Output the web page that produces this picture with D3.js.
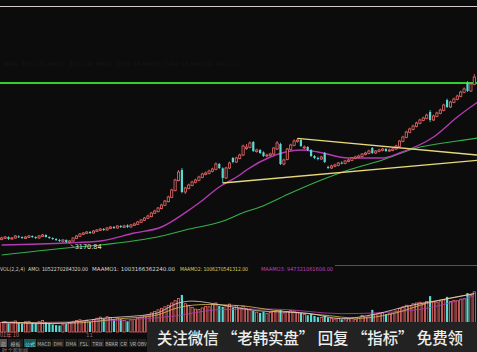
<!DOCTYPE html>
<html>
<head>
<meta charset="utf-8">
<script src="https://cdn.jsdelivr.net/npm/d3@7"></script>
<style>
  html, body { margin: 0; padding: 0; background: #0c0c0c; }
  svg { display: block; }
</style>
</head>
<body>
<svg width="477" height="352"></svg>
<script>
// daily index candles (points)
const openP = [
  3184,3187,3191,3185,3188,3193,3191,3187,3190,3194,
  3191,3188,3193,3197,3191,3188,3185,3182,3178,3182,
  3175,3179,3187,3193,3199,3202,3206,3203,3208,3211,
  3215,3212,3217,3221,3218,3224,3220,3226,3221,3226,
  3229,3235,3241,3247,3252,3262,3267,3276,3286,3297,
  3310,3330,3360,3392,3326,3337,3346,3355,3361,3370,
  3379,3382,3388,3394,3410,3397,3368,3398,3428,3416,
  3427,3437,3456,3460,3476,3447,3452,3445,3434,3436,
  3440,3455,3470,3410,3424,3454,3466,3478,3482,3458,
  3461,3452,3434,3428,3425,3443,3401,3398,3403,3406,
  3414,3412,3418,3421,3427,3430,3433,3439,3442,3458,
  3443,3448,3451,3455,3449,3451,3455,3463,3478,3490,
  3505,3514,3523,3532,3541,3547,3566,3542,3553,3562,
  3571,3602,3581,3595,3604,3613,3625,3653,3629,3649
];
const closeP = [
  3188,3191,3185,3188,3194,3191,3188,3191,3194,3191,
  3188,3194,3197,3191,3188,3185,3182,3179,3182,3176,
  3179,3188,3194,3200,3203,3206,3203,3209,3212,3215,
  3212,3218,3221,3218,3224,3221,3224,3221,3227,3230,
  3236,3242,3248,3254,3263,3269,3278,3287,3299,3311,
  3332,3362,3386,3326,3338,3347,3356,3362,3371,3380,
  3383,3389,3395,3410,3398,3368,3398,3413,3416,3428,
  3437,3464,3461,3473,3449,3452,3443,3434,3437,3440,
  3458,3473,3410,3422,3455,3467,3479,3482,3464,3461,
  3452,3434,3428,3425,3431,3416,3398,3404,3407,3413,
  3413,3419,3422,3428,3431,3434,3440,3443,3449,3443,
  3449,3452,3455,3449,3452,3455,3464,3479,3491,3506,
  3515,3524,3533,3542,3548,3557,3542,3554,3563,3572,
  3587,3581,3596,3605,3614,3626,3635,3629,3650,3671
];
const highP = [
  3192,3194,3193,3191,3197,3196,3193,3194,3197,3196,
  3193,3197,3200,3199,3193,3190,3188,3185,3185,3184,
  3182,3190,3197,3203,3206,3209,3209,3212,3215,3218,
  3218,3221,3224,3224,3227,3227,3228,3229,3230,3234,
  3239,3245,3251,3258,3266,3273,3281,3291,3302,3315,
  3336,3366,3392,3398,3342,3351,3360,3366,3375,3384,
  3388,3393,3399,3415,3413,3400,3402,3417,3431,3432,
  3441,3468,3470,3478,3479,3456,3455,3448,3441,3444,
  3461,3479,3474,3426,3458,3471,3484,3488,3485,3466,
  3464,3455,3437,3432,3435,3446,3405,3408,3411,3416,
  3418,3422,3426,3431,3435,3438,3443,3447,3453,3461,
  3452,3456,3459,3458,3456,3459,3468,3482,3495,3510,
  3519,3528,3537,3546,3552,3561,3572,3558,3567,3576,
  3591,3606,3600,3609,3618,3630,3640,3659,3655,3680
];
const lowP = [
  3181,3185,3182,3183,3186,3188,3185,3185,3188,3188,
  3185,3186,3191,3189,3185,3182,3179,3176,3175,3173,
  3170.84,3177,3185,3191,3197,3200,3200,3201,3206,3209,
  3209,3210,3215,3215,3216,3218,3218,3218,3219,3224,
  3227,3233,3239,3245,3250,3260,3265,3274,3284,3295,
  3308,3328,3358,3322,3320,3334,3343,3352,3358,3367,
  3376,3379,3385,3391,3395,3353,3365,3395,3412,3413,
  3424,3434,3452,3457,3446,3444,3440,3431,3430,3433,
  3437,3452,3407,3406,3421,3451,3463,3474,3461,3455,
  3449,3431,3425,3421,3422,3413,3395,3395,3400,3403,
  3409,3409,3415,3418,3424,3427,3430,3436,3439,3440,
  3440,3445,3448,3446,3446,3448,3452,3460,3475,3487,
  3502,3511,3520,3529,3538,3544,3536,3539,3550,3559,
  3568,3578,3578,3592,3601,3610,3622,3626,3626,3646
];
// turnover (亿元)
const amount = [
  2500,2700,2300,2600,2900,2400,2200,2700,2800,2500,
  2300,2700,3000,2600,2300,2000,1800,1700,1900,2100,
  2400,2800,3000,3200,2900,3100,2700,3300,3600,3900,
  3500,4000,3800,3300,3700,3400,3000,2800,3200,3300,
  3600,3900,4200,4500,5000,5400,5800,6200,6600,7000,
  7600,8200,8800,9700,7400,7000,6400,6000,5900,6300,
  6700,6600,7200,7600,6800,6600,6900,7300,6400,6900,
  6300,6800,6200,6000,5500,5200,5000,5300,4900,5100,
  5400,5700,5800,5000,5400,5600,5500,5200,5000,4600,
  4400,4700,4200,3900,3800,4300,3800,3500,3400,3600,
  3300,3200,3400,3500,3300,3600,4300,3900,4200,5800,
  4600,4900,5000,4700,4800,5000,5500,6200,6600,7000,
  6800,7400,7600,7800,7600,8000,9400,7900,7800,8100,
  8400,9200,8000,8300,8200,8600,8700,10200,9600,10523
];
// moving averages, [day, value]
const maMid = [[0,3167],[19,3173],[29,3179],[39,3203],[47,3221],[54,3264],[58,3293],
  [64,3341],[70,3377],[72,3392],[79,3431],[88,3452],[93,3446],[102,3428],[112,3428],
  [117,3443],[127,3491],[134,3551],[140,3596]];
const maLong = [[0,3137],[19,3158],[29,3167],[47,3194],[54,3212],[66,3242],[70,3260],
  [76,3281],[85,3323],[94,3362],[102,3392],[112,3422],[122,3458],[132,3476],[140,3488]];
const amoMa1 = [[0,2500],[15,2200],[30,3600],[45,4800],[52,7600],[56,8100],[65,7000],
  [75,5600],[90,4900],[100,3500],[110,4700],[120,6900],[130,8500],[139,10032]];
const amoMa2 = [[0,2600],[20,2300],[35,3500],[45,4300],[52,6400],[60,7200],[70,6900],
  [80,5700],[95,4400],[105,3600],[115,4800],[125,7500],[139,10063]];
const amoMa3 = [[0,2400],[30,2900],[50,4100],[65,5900],[80,6000],[100,4800],[120,5600],[139,9473]];
const resistance = 3653;
const upperTrend = [[87,3487],[141,3436]];
const lowerTrend = [[65,3353],[141,3422]];
const lowLabel = "3170.84";
const tabs = ["指","模板","公式","MACD","DMI","DMA","FSL","TRIX","BRAR","CR","VR","OBV"];
const watermark = "关注微信 “老韩实盘” 回复 “指标” 免费领";

const svg = d3.select("svg");
const W = 477;
const UP = "#ee6a6a", DOWN = "#5ad8d4", BG = "#0c0c0c";

const x = d3.scaleLinear().domain([0, 139]).range([1.7, 474.3]);
const y = d3.scaleLinear().domain([3098, 3722]).range([268, 60]);
const yv = d3.scaleLinear().domain([0, 11000]).range([332, 290]);

svg.append("rect").attr("width", W).attr("height", 352).attr("fill", BG);

svg.append("defs").append("clipPath").attr("id", "main")
  .append("rect").attr("x", 0).attr("y", 8).attr("width", W).attr("height", 256);

// top border
svg.append("line").attr("x1", 0).attr("x2", W).attr("y1", 6.5).attr("y2", 6.5)
  .attr("stroke", "#d9c8c8").attr("stroke-width", 1.2);

// faint header
svg.append("text").attr("x", 4).attr("y", 66).attr("fill", "#161616")
  .style("font", "6px 'DejaVu Sans'")
  .text("MA5: 3650.21  MA10: 3611.46  MA20: 3560.88  MA60: 3487.95  MA120: 3402.17");

const g = svg.append("g").attr("clip-path", "url(#main)");

// resistance level
g.append("line").attr("x1", 0).attr("x2", W)
  .attr("y1", y(resistance)).attr("y2", y(resistance))
  .attr("stroke", "#2fcf2f").attr("stroke-width", 2);

const line = d3.line().x(d => x(d[0])).y(d => y(d[1])).curve(d3.curveMonotoneX);
g.append("path").attr("d", line(maLong)).attr("fill", "none")
  .attr("stroke", "#36b04a").attr("stroke-width", 1.1);
g.append("path").attr("d", line(maMid)).attr("fill", "none")
  .attr("stroke", "#b43ab4").attr("stroke-width", 1.4);

// candles
const idx = d3.range(closeP.length);
const c = g.selectAll("g.candle").data(idx).enter().append("g");
c.append("line")
  .attr("x1", i => x(i)).attr("x2", i => x(i))
  .attr("y1", i => y(highP[i])).attr("y2", i => y(lowP[i]))
  .attr("stroke", i => closeP[i] >= openP[i] ? UP : DOWN).attr("stroke-width", 0.8);
c.append("rect")
  .attr("x", i => x(i) - 1.1)
  .attr("y", i => y(Math.max(openP[i], closeP[i])))
  .attr("width", 2.2)
  .attr("height", i => Math.max(1, Math.abs(y(openP[i]) - y(closeP[i]))))
  .attr("fill", i => closeP[i] >= openP[i] ? BG : DOWN)
  .attr("stroke", i => closeP[i] >= openP[i] ? UP : "none")
  .attr("stroke-width", 0.8);

// trend lines
const tline = d3.line().x(d => x(d[0])).y(d => y(d[1]));
[upperTrend, lowerTrend].forEach(t => {
  g.append("path").attr("d", tline(t)).attr("fill", "none")
    .attr("stroke", "#e6d97a").attr("stroke-width", 1.4);
});

// low marker
const lowIdx = lowP.indexOf(d3.min(lowP));
svg.append("line").attr("x1", x(lowIdx) + 1).attr("x2", x(lowIdx) + 4)
  .attr("y1", y(lowP[lowIdx]) + 1).attr("y2", y(lowP[lowIdx]) + 3)
  .attr("stroke", "#dddddd").attr("stroke-width", 0.7);
svg.append("text").attr("x", x(lowIdx) + 5).attr("y", y(lowP[lowIdx]) + 5.5)
  .attr("fill", "#e4e4e4").style("font", "6.5px 'DejaVu Sans'").text(lowLabel);

// volume panel
svg.append("line").attr("x1", 335).attr("x2", W).attr("y1", 265.5).attr("y2", 265.5)
  .attr("stroke", "#555").attr("stroke-width", 1);

const head = [
  {t: "VOL(2,2,4)", x: 0, w: 25, c: "#c8c8c8"},
  {t: "AMO: 1052270284320.00", x: 28, w: 60, c: "#d8d8d8"},
  {t: "MAAMO1: 1003166362240.00", x: 92, w: 83, c: "#d8d8d8"},
  {t: "MAAMO2: 1006270541312.00", x: 180, w: 68, c: "#e0cc50"},
  {t: "MAAMO3: 947321061608.00", x: 261, w: 72, c: "#c040c0"}
];
svg.selectAll("text.head").data(head).enter().append("text")
  .attr("x", d => d.x).attr("y", 270.5).attr("fill", d => d.c)
  .attr("textLength", d => d.w).attr("lengthAdjust", "spacingAndGlyphs")
  .style("font", "5.5px 'DejaVu Sans'").text(d => d.t);

const vb = svg.append("g");
vb.selectAll("rect").data(idx).enter().append("rect")
  .attr("x", i => x(i) - 1.1)
  .attr("y", i => yv(amount[i]))
  .attr("width", 2.2)
  .attr("height", i => yv(0) - yv(amount[i]))
  .attr("fill", i => closeP[i] >= openP[i] ? BG : DOWN)
  .attr("stroke", i => closeP[i] >= openP[i] ? UP : "none")
  .attr("stroke-width", 0.8);

const vline = d3.line().x(d => x(d[0])).y(d => yv(d[1])).curve(d3.curveMonotoneX);
[[amoMa3, "#b040b0"], [amoMa2, "#d8c050"], [amoMa1, "#e8d0d0"]].forEach(([s, col]) => {
  vb.append("path").attr("d", vline(s)).attr("fill", "none")
    .attr("stroke", col).attr("stroke-width", 0.8);
});

// date labels
svg.append("text").attr("x", 0).attr("y", 337).attr("fill", "#c86a6a")
  .style("font", "5.5px 'Noto Sans CJK SC'").text("01年    10");
svg.append("text").attr("x", 86).attr("y", 337).attr("fill", "#8a6a6a")
  .style("font", "5.5px 'DejaVu Sans'").text("11");

// tab bar
const tabX = [0, 8, 24, 37, 52, 65, 78, 91, 105, 119, 129, 138];
const tb = svg.append("g");
tabs.forEach((t, i) => {
  const w = (i < tabs.length - 1 ? tabX[i + 1] : 147) - tabX[i] - 1;
  tb.append("rect").attr("x", tabX[i]).attr("y", 339).attr("width", w).attr("height", 8)
    .attr("fill", i === 0 ? "#555" : i === 2 ? "#1e5656" : "#202020");
  tb.append("text").attr("x", tabX[i] + w / 2).attr("y", 345.5).attr("text-anchor", "middle")
    .attr("fill", i === 2 ? "#6fe0e0" : "#b0b0b0")
    .style("font", "5px 'Noto Sans CJK SC'").text(t);
});
svg.append("text").attr("x", 2).attr("y", 351.5).attr("fill", "#8a8a8a")
  .style("font", "5px 'Noto Sans CJK SC'").text("时   个股新闻");

// watermark
svg.append("rect").attr("x", 147).attr("y", 322).attr("width", 330).attr("height", 30)
  .attr("fill", "#222222");
svg.append("text").attr("x", 157).attr("y", 343.5).attr("fill", "#ececec")
  .attr("textLength", 306).attr("lengthAdjust", "spacingAndGlyphs")
  .style("font", "500 16px 'Noto Sans CJK SC'").text(watermark);
</script>
</body>
</html>
